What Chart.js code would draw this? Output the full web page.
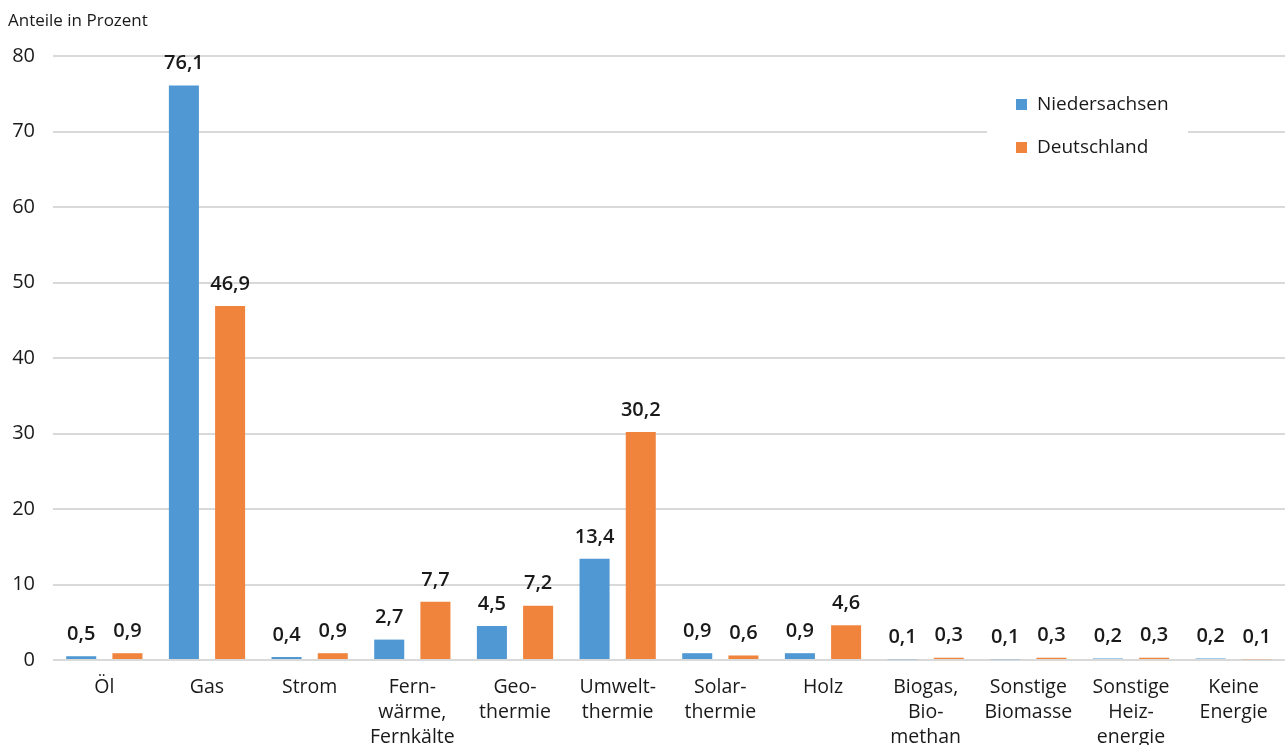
<!DOCTYPE html>
<html>
<head>
<meta charset="utf-8">
<script src="https://cdn.jsdelivr.net/npm/chart.js@4"></script>
<style>
  html, body { margin: 0; padding: 0; background: #fff; }
  #wrap { width: 1285px; height: 745px; position: relative; }
</style>
</head>
<body>
<div id="wrap"><canvas id="chart_heizung"></canvas></div>
<script>
const categories = [
  "Öl", "Gas", "Strom", ["Fern-", "wärme,", "Fernkälte"], ["Geo-", "thermie"],
  ["Umwelt-", "thermie"], ["Solar-", "thermie"], "Holz", ["Biogas,", "Bio-", "methan"],
  ["Sonstige", "Biomasse"], ["Sonstige", "Heiz-", "energie"], ["Keine", "Energie"]
];
const niedersachsen = [0.5, 76.1, 0.4, 2.7, 4.5, 13.4, 0.9, 0.9, 0.1, 0.1, 0.2, 0.2];
const deutschland = [0.9, 46.9, 0.9, 7.7, 7.2, 30.2, 0.6, 4.6, 0.3, 0.3, 0.3, 0.1];
const yTicks = [0, 10, 20, 30, 40, 50, 60, 70, 80];

const FONT = "'Open Sans', 'Noto Sans', sans-serif";
const TEXT = "#1a1a1a";

// value labels above the bars
const valueLabels = {
  id: "valueLabels",
  afterDatasetsDraw(chart) {
    const ctx = chart.ctx;
    ctx.save();
    ctx.font = "600 20px " + FONT;
    ctx.fillStyle = TEXT;
    ctx.textAlign = "center";
    ctx.textBaseline = "middle";
    chart.data.datasets.forEach(function (ds, i) {
      chart.getDatasetMeta(i).data.forEach(function (bar, j) {
        const txt = ds.data[j].toFixed(1).replace(".", ",");
        ctx.fillText(txt, bar.x, bar.y - 22);
      });
    });
    ctx.restore();
  }
};

// legend box inside the plot + axis title
const extras = {
  id: "extras",
  afterDraw(chart) {
    const ctx = chart.ctx;
    ctx.save();
    ctx.fillStyle = "#fff";
    ctx.fillRect(987, 80, 201, 90);
    ctx.font = "19px " + FONT;
    ctx.textBaseline = "middle";
    ctx.textAlign = "left";
    chart.data.datasets.forEach(function (ds, i) {
      const y = 105 + i * 43;
      ctx.fillStyle = ds.backgroundColor;
      ctx.fillRect(1016, y - 6, 11, 11);
      ctx.fillStyle = TEXT;
      ctx.fillText(ds.label, 1037, y);
    });
    ctx.font = "17px " + FONT;
    ctx.fillText("Anteile in Prozent", 8, 21);
    ctx.restore();
  }
};

new Chart(document.getElementById("chart_heizung"), {
  type: "bar",
  data: {
    labels: categories,
    datasets: [
      { label: "Niedersachsen", data: niedersachsen, backgroundColor: "#4f98d3" },
      { label: "Deutschland", data: deutschland, backgroundColor: "#f0843c" }
    ]
  },
  options: {
    responsive: true,
    maintainAspectRatio: false,
    animation: false,
    categoryPercentage: 0.9,
    barPercentage: 0.65,
    layout: { padding: { top: 56, right: 0, left: 0, bottom: 0 } },
    plugins: {
      legend: { display: false },
      tooltip: { enabled: false }
    },
    scales: {
      y: {
        min: 0,
        max: 80,
        afterFit: function (scale) { scale.width = 53; },
        afterBuildTicks: function (scale) {
          scale.ticks = yTicks.map(function (v) { return { value: v }; });
        },
        border: { display: false },
        grid: { color: "#d9d9d9", lineWidth: 2, drawTicks: false },
        ticks: { padding: 18, color: TEXT, font: { family: FONT, size: 20 } }
      },
      x: {
        afterFit: function (scale) { scale.height = 85; },
        border: { display: false },
        grid: { display: false },
        ticks: {
          padding: 7,
          maxRotation: 0,
          autoSkip: false,
          color: TEXT,
          font: { family: FONT, size: 19.5, lineHeight: 1.28 }
        }
      }
    }
  },
  plugins: [valueLabels, extras]
});
</script>
</body>
</html>
